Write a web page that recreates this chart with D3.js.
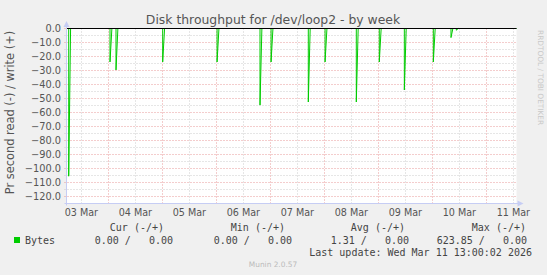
<!DOCTYPE html>
<html>
<head>
<meta charset="utf-8">
<title>Disk throughput for /dev/loop2 - by week</title>
<script src="https://cdn.jsdelivr.net/npm/d3@7"></script>
<style>
  body { margin: 0; background: #f0f0f0; }
  svg { display: block; }
  .sans { font-family: "DejaVu Sans", sans-serif; }
  .mono { font-family: "DejaVu Sans Mono", monospace; white-space: pre; }
</style>
</head>
<body>
<div id="chart"></div>
<script>
// read spikes (shown as negative), write series is flat 0
var readTimes = ["2026-03-03T06:24", "2026-03-04T00:45", "2026-03-04T03:25", "2026-03-05T00:10",
                 "2026-03-06T00:20", "2026-03-06T19:25", "2026-03-07T00:20", "2026-03-07T16:53",
                 "2026-03-08T00:20", "2026-03-08T14:13", "2026-03-09T00:26", "2026-03-09T11:34",
                 "2026-03-10T00:27", "2026-03-10T08:18", "2026-03-10T10:40"];
var readValues = [105.5, 23.9, 29.6, 23.9, 23.9, 54.7, 23.9, 52.5, 23.9, 52.5, 23.9, 43.9, 23.9, 6.5, 1.2];

var dayLabels = ["03 Mar", "04 Mar", "05 Mar", "06 Mar", "07 Mar", "08 Mar", "09 Mar", "10 Mar", "11 Mar"];
var dayNoons = ["2026-03-03T12:00", "2026-03-04T12:00", "2026-03-05T12:00", "2026-03-06T12:00",
                "2026-03-07T12:00", "2026-03-08T12:00", "2026-03-09T12:00", "2026-03-10T12:00", "2026-03-11T12:00"];
var yTicks = [0, -10, -20, -30, -40, -50, -60, -70, -80, -90, -100, -110, -120];

var legendHeads = ["Cur (-/+)", "Min (-/+)", "Avg (-/+)", "Max (-/+)"];
var legendVals = ["0.00 /   0.00", "0.00 /   0.00", "1.31 /   0.00", "623.85 /   0.00"];
var lastUpdate = "Last update: Wed Mar 11 13:00:02 2026";

var W = 547, H = 275;
var parse = d3.timeParse("%Y-%m-%dT%H:%M");
var start = parse("2026-03-03T05:25"), end = parse("2026-03-11T13:25");

var x = d3.scaleTime().domain([start, end]).range([66.5, 516.5]);
var y = d3.scaleLinear().domain([-125, 0]).range([203.5, 28.5]);

var svg = d3.select("#chart").append("svg")
    .attr("width", W).attr("height", H);

svg.append("rect").attr("width", W).attr("height", H).attr("fill", "#f0f0f0");
svg.append("rect")
    .attr("x", x.range()[0]).attr("y", y(0))
    .attr("width", x.range()[1] - x.range()[0]).attr("height", y(-125) - y(0))
    .attr("fill", "#ffffff");

// grid
var minorY = d3.range(-5, -125, -10);
svg.append("g").selectAll("line").data(minorY).enter().append("line")
    .attr("x1", x.range()[0] - 2).attr("x2", x.range()[1])
    .attr("y1", function(d) { return y(d); }).attr("y2", function(d) { return y(d); })
    .attr("stroke", "#cccccc").attr("stroke-dasharray", "1,2");

var halfDays = d3.timeHour.every(12).range(start, end);
svg.append("g").selectAll("line").data(halfDays).enter().append("line")
    .attr("x1", function(d) { return Math.round(x(d)) + 0.5; })
    .attr("x2", function(d) { return Math.round(x(d)) + 0.5; })
    .attr("y1", y(0)).attr("y2", y(-125) + 2)
    .attr("stroke", function(d) { return d.getHours() === 0 ? "#e89a9a" : "#cccccc"; })
    .attr("stroke-dasharray", "1,2");

svg.append("g").selectAll("line").data(yTicks).enter().append("line")
    .attr("x1", x.range()[0] - 2).attr("x2", x.range()[1])
    .attr("y1", function(d) { return y(d); }).attr("y2", function(d) { return y(d); })
    .attr("stroke", "#e89a9a").attr("stroke-dasharray", "1,2");

// read line
var pts = [[start, 0]];
readTimes.forEach(function(t, i) {
  var d = parse(t);
  pts.push([d, 0], [d, -readValues[i]], [new Date(+d + 50 * 60000), 0]);
});
pts.push([end, 0]);

var line = d3.line().x(function(d) { return x(d[0]); }).y(function(d) { return y(d[1]); });
svg.append("path").datum(pts)
    .attr("d", line)
    .attr("fill", "none").attr("stroke", "#00cc00").attr("stroke-width", 1);

// zero rule
svg.append("line")
    .attr("x1", x.range()[0]).attr("x2", x.range()[1])
    .attr("y1", y(0)).attr("y2", y(0))
    .attr("stroke", "#000000");

// axes (rrdtool style with arrows)
var axisColor = "#c6cdf4";
svg.append("line").attr("x1", x.range()[0]).attr("x2", x.range()[0])
    .attr("y1", y(-125) + 2).attr("y2", 23).attr("stroke", axisColor);
svg.append("line").attr("x1", x.range()[0] - 2).attr("x2", x.range()[1] + 3)
    .attr("y1", y(-125)).attr("y2", y(-125)).attr("stroke", axisColor);
svg.append("path")
    .attr("d", "M" + (x.range()[0] - 3) + ",27 L" + x.range()[0] + ",21 L" + (x.range()[0] + 3) + ",27 Z")
    .attr("fill", axisColor);
svg.append("path")
    .attr("d", "M" + (x.range()[1] + 1) + "," + (y(-125) - 3) + " L" + (x.range()[1] + 7) + "," + y(-125) +
          " L" + (x.range()[1] + 1) + "," + (y(-125) + 3) + " Z")
    .attr("fill", axisColor);

// y tick labels
svg.append("g").selectAll("text").data(yTicks).enter().append("text")
    .attr("class", "sans")
    .attr("x", 61).attr("y", function(d) { return y(d); })
    .attr("dy", "0.35em")
    .attr("text-anchor", "end")
    .attr("font-size", "9.8px").attr("fill", "#555")
    .text(function(d) { return d3.format(".1f")(d); });

// x labels
svg.append("g").selectAll("text").data(dayLabels).enter().append("text")
    .attr("class", "sans")
    .attr("x", function(d, i) { return x(parse(dayNoons[i])); })
    .attr("y", 216)
    .attr("text-anchor", "middle")
    .attr("font-size", "9.6px").attr("fill", "#555")
    .text(function(d) { return d; });

// title & labels
svg.append("text").attr("class", "sans")
    .attr("x", 273).attr("y", 24).attr("text-anchor", "middle")
    .attr("font-size", "12.4px").attr("fill", "#555")
    .text("Disk throughput for /dev/loop2 - by week");

svg.append("text").attr("class", "sans")
    .attr("transform", "translate(14,112.5) rotate(-90)")
    .attr("text-anchor", "middle")
    .attr("font-size", "11.4px").attr("fill", "#555")
    .text("Pr second read (-) / write (+)");

svg.append("text").attr("class", "sans")
    .attr("transform", "translate(538,30) rotate(90)")
    .attr("text-anchor", "start")
    .attr("font-size", "7.4px").attr("fill", "#c8c8c8")
    .text("RRDTOOL / TOBI OETIKER");

// legend
var headEnds = [164, 285, 405, 526];
var valEnds = [173, 292, 409, 527];
svg.append("g").selectAll("text").data(legendHeads).enter().append("text")
    .attr("class", "mono").attr("x", function(d, i) { return headEnds[i]; }).attr("y", 231)
    .attr("text-anchor", "end").attr("font-size", "10px").attr("fill", "#444")
    .text(function(d) { return d; });

svg.append("rect").attr("x", 14).attr("y", 237).attr("width", 6).attr("height", 6).attr("fill", "#00cc00");
svg.append("text").attr("class", "mono").attr("x", 25).attr("y", 243.5)
    .attr("font-size", "10px").attr("fill", "#444").text("Bytes");
svg.append("g").selectAll("text").data(legendVals).enter().append("text")
    .attr("class", "mono").attr("x", function(d, i) { return valEnds[i]; }).attr("y", 243.5)
    .attr("text-anchor", "end").attr("font-size", "10px").attr("fill", "#444")
    .text(function(d) { return d; });

svg.append("text").attr("class", "mono").attr("x", 532).attr("y", 255.5)
    .attr("text-anchor", "end").attr("font-size", "10px").attr("fill", "#444")
    .text(lastUpdate);

svg.append("text").attr("class", "sans").attr("x", 273).attr("y", 267)
    .attr("text-anchor", "middle").attr("font-size", "7.4px").attr("fill", "#bbbbbb")
    .text("Munin 2.0.57");
</script>
</body>
</html>
